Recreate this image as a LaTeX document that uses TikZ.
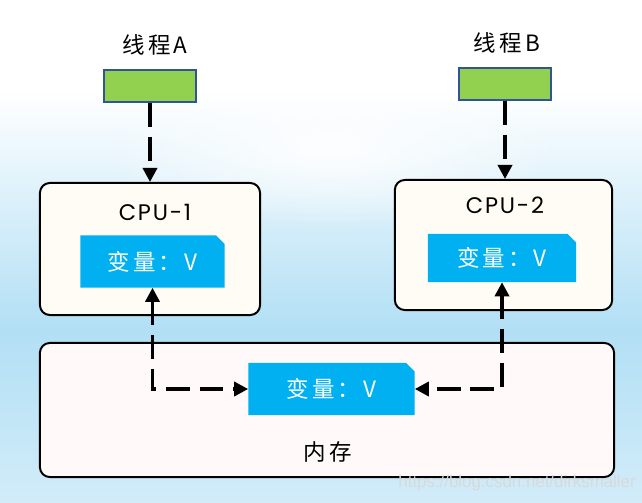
\documentclass[tikz,border=0pt]{standalone}
\usepackage{fontspec}
\setmainfont{Poppins}
\newfontfamily\cjk{Noto Sans CJK SC}[LetterSpace=14]
\newfontfamily\webfont{Liberation Sans}
\usetikzlibrary{shapes.misc,arrows.meta,fadings}

\definecolor{haze}{RGB}{178,223,245}
\definecolor{palehaze}{RGB}{210,236,249}
\definecolor{thread}{RGB}{146,208,80}
\definecolor{threadedge}{RGB}{47,85,151}
\definecolor{varblue}{RGB}{0,176,240}
\definecolor{cpufill}{RGB}{255,251,245}
\definecolor{memfill}{RGB}{255,249,249}
\tikzfading[name=glow, inner color=transparent!0, outer color=transparent!100]

\tikzset{
  threadbox/.style={draw=threadedge, line width=1.3pt, fill=thread,
    minimum width=2.3cm, minimum height=0.8cm},
  unitbox/.style={draw=black, line width=1.4pt, rounded corners=7pt, fill=cpufill},
  varbox/.style={chamfered rectangle, chamfered rectangle corners=north east,
    chamfered rectangle xsep=3pt, chamfered rectangle ysep=3pt,
    fill=varblue, text=white, inner sep=0pt,
    font=\cjk\fontsize{16}{19}\selectfont},
  title/.style={font=\cjk\fontsize{16}{19}\selectfont},
  cputitle/.style={font=\fontsize{16}{19}\addfontfeature{LetterSpace=8}\selectfont},
  tip/.style={-{Triangle[length=10pt,width=10pt]}},
  flow/.style={line width=2.4pt, dash pattern=on 17pt off 7pt, tip}
}

\begin{document}
\begin{tikzpicture}[x=0.025cm,y=-0.025cm]
\fill[white] (0,0) rectangle (642,503);
\useasboundingbox (0,0) rectangle (642,503);
\shade[top color=white, bottom color=haze] (0,90) rectangle (642,330);
\shade[top color=haze, bottom color=palehaze] (0,330) rectangle (642,503);
\fill[white, path fading=glow, opacity=0.9] (330,150) ellipse (230 and 80);

\node[title] (labelA) at (155,45) {线程A};
\node[title] (labelB) at (507,43) {线程B};
\node[threadbox] (threadA) at (150,86) {};
\node[threadbox] (threadB) at (505,84) {};

\node[unitbox, minimum width=5.5cm, minimum height=3.3cm] (cpu1) at (150,249) {};
\node[unitbox, minimum width=5.43cm, minimum height=3.25cm] (cpu2) at (503.5,245) {};
\node[unitbox, fill=memfill, minimum width=14.35cm, minimum height=3.35cm] (mem) at (327,410) {};

\node[cputitle] (cpu1title) at (155,212) {CPU-1};
\node[cputitle] (cpu2title) at (505,205) {CPU-2};
\node[title] (memtitle) at (328,452) {内存};

\node[varbox, minimum width=3.6cm, minimum height=1.3cm] (var1) at (152.5,261.5) {变量：V};
\node[varbox, minimum width=3.7cm, minimum height=1.2cm] (var2) at (502,258) {变量：V};
\node[varbox, minimum width=4.15cm, minimum height=1.3cm] (memvar) at (331.5,389) {变量：V};

\draw[flow] (threadA.south) -- (cpu1.north);
\draw[flow] (threadB.south) -- (threadB.south |- cpu2.north);
\draw[flow, {Triangle[length=10pt,width=10pt]}-{Triangle[length=10pt,width=10pt]}] (var1.south) |- (memvar.west);
\draw[flow, {Triangle[length=10pt,width=10pt]}-{Triangle[length=10pt,width=10pt]}] (var2.south) |- (memvar.east);

\node[font=\webfont\fontsize{12}{14}\selectfont, text=white!70!gray, anchor=east, inner sep=0pt] (mark) at (636,483) {https://blog.csdn.net/dirksmaller};
\end{tikzpicture}
\end{document}
